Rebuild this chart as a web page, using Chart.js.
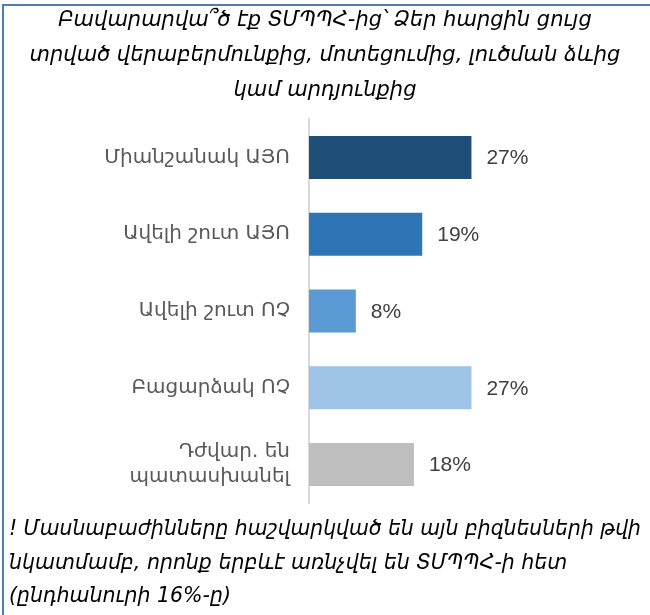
<!DOCTYPE html>
<html>
<head>
<meta charset="utf-8">
<script src="https://cdn.jsdelivr.net/npm/chart.js@4.4.1/dist/chart.umd.min.js"></script>
<style>
  html, body { margin: 0; padding: 0; background: #fff; }
  #wrap { position: relative; width: 650px; height: 615px; }
</style>
</head>
<body>
<div id="wrap"><canvas id="grafico"></canvas></div>
<script>
const categorias = [
  'Միանշանակ ԱՅՈ',
  'Ավելի շուտ ԱՅՈ',
  'Ավելի շուտ ՈՉ',
  'Բացարձակ ՈՉ',
  ['Դժվար. են', 'պատասխանել']
];
const valores = [27.4, 19.1, 7.9, 27.4, 17.7];
const etiquetas = ['27%', '19%', '8%', '27%', '18%'];
const colores = ['#1f4e79', '#2e75b6', '#5b9bd5', '#9dc3e6', '#bfbfbf'];

const titulo = [
  'Բավարարվա՞ծ էք ՏՄՊՊՀ-ից՝ Ձեր հարցին ցույց',
  'տրված վերաբերմունքից, մոտեցումից, լուծման ձևից',
  'կամ արդյունքից'
];
const nota = [
  '! Մասնաբաժինները հաշվարկված են այն բիզնեսների թվի',
  'նկատմամբ, որոնք երբևէ առնչվել են ՏՄՊՊՀ-ի հետ',
  '(ընդհանուրի 16%-ը)'
];

// marco azul (solo arriba e izquierda)
const marco = {
  id: 'marco',
  afterDraw(chart) {
    const ctx = chart.ctx;
    ctx.save();
    ctx.strokeStyle = '#4a7ebb';
    ctx.lineWidth = 2;
    ctx.beginPath();
    ctx.moveTo(3, 615);
    ctx.lineTo(3, 5);
    ctx.lineTo(650, 5);
    ctx.stroke();
    ctx.restore();
  }
};

// porcentajes al final de cada barra
const valoresBarras = {
  id: 'valoresBarras',
  afterDatasetsDraw(chart) {
    const ctx = chart.ctx;
    const meta = chart.getDatasetMeta(0);
    ctx.save();
    ctx.font = '21px "Liberation Sans", Arial, sans-serif';
    ctx.fillStyle = '#404040';
    ctx.textAlign = 'left';
    ctx.textBaseline = 'middle';
    meta.data.forEach((bar, i) => {
      ctx.fillText(etiquetas[i], bar.x + 15, bar.y + 1);
    });
    ctx.restore();
  }
};

new Chart(document.getElementById('grafico'), {
  type: 'bar',
  data: {
    labels: categorias,
    datasets: [{
      data: valores,
      backgroundColor: colores,
      borderWidth: 0,
      categoryPercentage: 1,
      barPercentage: 0.56
    }]
  },
  options: {
    indexAxis: 'y',
    responsive: true,
    maintainAspectRatio: false,
    animation: false,
    layout: {
      padding: { left: 9, right: 9, top: 0, bottom: 0 }
    },
    plugins: {
      legend: { display: false },
      tooltip: { enabled: false },
      title: {
        display: true,
        text: titulo,
        color: '#000',
        font: { family: '"DejaVu Sans", sans-serif', size: 21, style: 'italic', weight: 'normal', lineHeight: '35px' },
        padding: { top: 3, bottom: 11 }
      },
      subtitle: {
        display: true,
        position: 'bottom',
        align: 'start',
        text: nota,
        color: '#000',
        font: { family: '"DejaVu Sans", sans-serif', size: 20.5, style: 'italic', weight: 'normal', lineHeight: '33.5px' },
        padding: { top: 10, bottom: 1.5 }
      }
    },
    scales: {
      x: {
        display: false,
        min: 0,
        max: 56
      },
      y: {
        grid: { display: false, drawTicks: false },
        border: { display: true, color: '#d9d9d9', width: 2 },
        ticks: {
          color: '#595959',
          padding: 19,
          font: { family: '"DejaVu Sans", sans-serif', size: 20, lineHeight: 1.25 }
        },
        afterFit(scale) {
          scale.width = 300;
        }
      }
    }
  },
  plugins: [marco, valoresBarras]
});
</script>
</body>
</html>
